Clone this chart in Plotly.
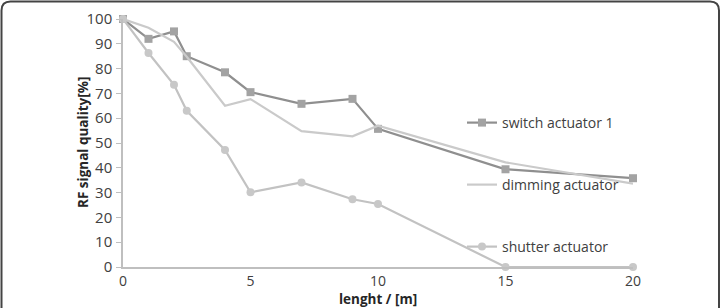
import plotly.graph_objects as go

x_len = [0, 1, 2, 2.5, 4, 5, 7, 9, 10, 15, 20]
switch_actuator = [100, 92, 95, 85, 78.5, 70.5, 65.8, 67.8, 55.7, 39.4, 35.8]
dimming_actuator = [100, 96.5, 90.8, 84.8, 65, 67.7, 54.8, 52.7, 57, 42.2, 33.6]
shutter_actuator = [100, 86.3, 73.5, 63, 47.2, 30.1, 34.1, 27.3, 25.4, 0, 0]

FONT = "Open Sans"
TXT = "#404040"

fig = go.Figure()
fig.add_trace(go.Scatter(x=x_len, y=switch_actuator, name="switch actuator 1", mode="lines+markers",
                         line=dict(color="#8f8f8f", width=2.2),
                         marker=dict(symbol="square", size=8, color="#a3a3a3"),
                         cliponaxis=False, legend="legend"))
fig.add_trace(go.Scatter(x=x_len, y=dimming_actuator, name="dimming actuator", mode="lines",
                         line=dict(color="#cacaca", width=2.2),
                         cliponaxis=False, legend="legend2"))
fig.add_trace(go.Scatter(x=x_len, y=shutter_actuator, name="shutter actuator", mode="lines+markers",
                         line=dict(color="#c2c2c2", width=2.2),
                         marker=dict(symbol="circle", size=8, color="#c8c8c8"),
                         cliponaxis=False, legend="legend3"))

L, R, T, B = 123, 633, 19, 267
W, H = 721, 308
pw, ph = R - L, B - T

def px(xp):
    return (xp - L) / pw

def py(yp):
    return (B - yp) / ph

leg = dict(font=dict(family=FONT, size=14, color=TXT), bgcolor="rgba(0,0,0,0)",
           xanchor="left", yanchor="middle", itemwidth=30)

# rounded outer frame
x0, x1, y0, y1, r = 1.5, 719, 1.5, 330, 9
path = (f"M {px(x0)},{py(y1)} L {px(x0)},{py(y0 + r)} Q {px(x0)},{py(y0)} {px(x0 + r)},{py(y0)} "
        f"L {px(x1 - r)},{py(y0)} Q {px(x1)},{py(y0)} {px(x1)},{py(y0 + r)} L {px(x1)},{py(y1)}")

fig.update_layout(
    width=W, height=H, margin=dict(l=L, r=W - R, t=T, b=H - B),
    paper_bgcolor="white", plot_bgcolor="white",
    font=dict(family=FONT, size=14, color=TXT),
    showlegend=True,
    legend=dict(x=px(462), y=py(123), **leg),
    legend2=dict(x=px(462), y=py(185), **leg),
    legend3=dict(x=px(462), y=py(247), **leg),
    xaxis=dict(range=[0, 20], tickvals=[0, 5, 10, 15, 20], showgrid=False, zeroline=False,
               showline=True, linecolor="#bfbfbf", linewidth=1.5, ticks="", ticklabelstandoff=0,
               automargin=False,
               tickfont=dict(family=FONT, size=14, color=TXT)),
    yaxis=dict(range=[0, 100], dtick=10, showgrid=False, zeroline=False,
               showline=True, linecolor="#bfbfbf", linewidth=1.5, ticks="outside", ticklen=5,
               automargin=False,
               tickcolor="#bfbfbf", tickfont=dict(family=FONT, size=15, color=TXT), ticklabelstandoff=1),
    annotations=[
        dict(text="<b>lenght / [m]</b>", xref="paper", yref="paper", x=0.5, y=py(308.5),
             xanchor="center", yanchor="bottom", showarrow=False, borderpad=0,
             font=dict(family=FONT, size=13.5, color="#262626")),
        dict(text="<b>RF signal quality[%]</b>", xref="paper", yref="paper", x=px(83), y=0.5,
             xanchor="center", yanchor="middle", showarrow=False, textangle=-90,
             font=dict(family=FONT, size=13.5, color="#262626")),
    ],
    shapes=[dict(type="path", xref="paper", yref="paper", path=path,
                 line=dict(color="#444444", width=2), layer="above")],
)

fig.write_html("out.html")
